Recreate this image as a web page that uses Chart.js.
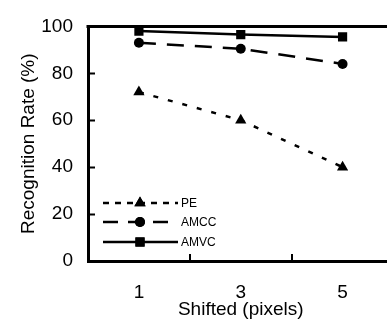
<!DOCTYPE html>
<html>
<head>
<meta charset="utf-8">
<script src="https://cdn.jsdelivr.net/npm/chart.js@4"></script>
<style>
  html, body { margin: 0; padding: 0; background: #fff; overflow: hidden; }
  #wrap { position: relative; width: 387px; height: 325px; overflow: hidden; }
</style>
</head>
<body>
<div id="wrap"><canvas id="chart" width="400" height="325"></canvas></div>
<script>
// data
const shifts = ['1', '3', '5'];
const peValues = [72, 60, 40];
const amccValues = [93, 90.5, 84];
const amvcValues = [98, 96.5, 95.5];
const seriesNames = ['PE', 'AMCC', 'AMVC'];
const yTicks = [0, 20, 40, 60, 80, 100];

const FONT = 'Arial, "Liberation Sans", sans-serif';

// frame, inner tick marks and the in-plot legend
const framePlugin = {
    id: 'frame',
    afterDraw(chart) {
        const ctx = chart.ctx;
        const a = chart.chartArea;
        const xs = chart.scales.x, ys = chart.scales.y;
        ctx.save();
        ctx.strokeStyle = '#000';
        ctx.lineWidth = 3;
        ctx.beginPath();
        ctx.moveTo(a.left - 1.5, a.top);
        ctx.lineTo(a.right, a.top);
        ctx.lineTo(a.right, a.bottom);
        ctx.stroke();

        ctx.lineWidth = 2;
        ctx.beginPath();
        yTicks.slice(1, -1).forEach(v => {
            const y = Math.round(ys.getPixelForValue(v)) + 0.5;
            ctx.moveTo(a.left, y);
            ctx.lineTo(a.left + 7, y);
        });
        for (let i = 0; i < shifts.length - 1; i++) {
            const x = Math.round((xs.getPixelForValue(i) + xs.getPixelForValue(i + 1)) / 2);
            ctx.moveTo(x, a.bottom);
            ctx.lineTo(x, a.bottom - 7);
        }
        ctx.stroke();

        // legend: line sample with marker in the middle
        const lx0 = 103, lx1 = 178, lxm = 140, textX = 181;
        const rows = [203, 222, 242];
        ctx.font = '12px ' + FONT;
        ctx.textBaseline = 'middle';
        ctx.fillStyle = '#000';
        chart.data.datasets.forEach((ds, i) => {
            const y = rows[i];
            ctx.save();
            ctx.lineWidth = ds.borderWidth;
            ctx.setLineDash(ds.legendDash);
            ctx.beginPath();
            ctx.moveTo(lx0, y);
            ctx.lineTo(lx1, y);
            ctx.stroke();
            ctx.restore();
            Chart.helpers.drawPoint(ctx, { pointStyle: ds.pointStyle, radius: ds.pointRadius, borderWidth: 0 }, lxm, y);
            ctx.fill();
            ctx.fillText(ds.label, textX, y + 1);
        });
        ctx.restore();
    }
};

function series(label, values, style, radius, dash, legendDash) {
    return {
        label: label,
        data: values,
        borderColor: '#000',
        backgroundColor: '#000',
        borderWidth: 2.5,
        borderDash: dash,
        legendDash: legendDash,
        pointStyle: style,
        pointRadius: radius,
        pointHoverRadius: radius,
        pointBorderWidth: 0,
        pointBackgroundColor: '#000',
        tension: 0
    };
}

new Chart(document.getElementById('chart'), {
    type: 'line',
    data: {
        labels: shifts,
        datasets: [
            series(seriesNames[0], peValues, 'triangle', 6.5, [5, 10], [6, 6]),
            series(seriesNames[1], amccValues, 'circle', 5, [17, 11], [15, 10]),
            series(seriesNames[2], amvcValues, 'rect', 6.5, [], [])
        ]
    },
    options: {
        responsive: false,
        devicePixelRatio: 1,
        animation: false,
        layout: { padding: { top: 20, right: 5, left: 0, bottom: 0 } },
        plugins: {
            legend: { display: false },
            tooltip: { enabled: false }
        },
        scales: {
            x: {
                offset: true,
                grid: { display: false, drawTicks: false },
                border: { display: true, color: '#000', width: 3 },
                ticks: { color: '#000', font: { family: FONT, size: 19 }, padding: 20 },
                title: {
                    display: true, text: 'Shifted (pixels)', color: '#000',
                    font: { family: FONT, size: 19 }, padding: { top: 0, bottom: 4 }
                },
                afterFit: s => { s.height = 64; }
            },
            y: {
                min: 0,
                max: 100,
                grid: { display: false, drawTicks: false },
                border: { display: true, color: '#000', width: 3 },
                ticks: {
                    stepSize: 20, color: '#000', padding: 15,
                    font: { family: FONT, size: 19 }
                },
                title: {
                    display: true, text: 'Recognition Rate (%)', color: '#000',
                    font: { family: FONT, size: 19 }, padding: { top: 17, bottom: 0 }
                },
                afterFit: s => { s.width = 88; }
            }
        }
    },
    plugins: [framePlugin]
});
</script>
</body>
</html>
